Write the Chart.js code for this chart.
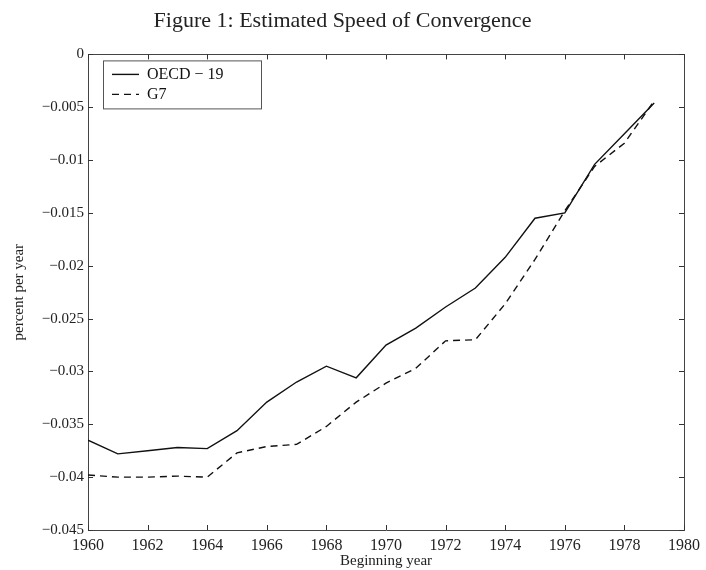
<!DOCTYPE html>
<html lang="en">
<head>
<meta charset="UTF-8">
<title>Estimated Speed of Convergence</title>
<script src="https://cdn.jsdelivr.net/npm/chart.js"></script>
<style>
  html, body { margin: 0; padding: 0; background: #fff; }
  #wrap { width: 706px; height: 570px; }
</style>
</head>
<body>
<div id="wrap"><canvas id="chart" width="706" height="570"></canvas></div>
<script>
// data
const years = [1960, 1961, 1962, 1963, 1964, 1965, 1966, 1967, 1968, 1969,
               1970, 1971, 1972, 1973, 1974, 1975, 1976, 1977, 1978, 1979];
const oecd19 = [-0.0365, -0.0378, -0.0375, -0.0372, -0.0373, -0.0356, -0.0329, -0.0310, -0.0295, -0.0306,
                -0.0275, -0.0259, -0.0239, -0.0221, -0.0192, -0.0155, -0.0150, -0.0104, -0.0075, -0.0046];
const g7 = [-0.0398, -0.0400, -0.0400, -0.0399, -0.0400, -0.0377, -0.0371, -0.0369, -0.0352, -0.0329,
            -0.0311, -0.0297, -0.0271, -0.0270, -0.0236, -0.0194, -0.0148, -0.0106, -0.0084, -0.0044];
const seriesNames = ['OECD \u2212 19', 'G7'];
const xTicks = [1960, 1962, 1964, 1966, 1968, 1970, 1972, 1974, 1976, 1978, 1980];
const yTicks = [0, -0.005, -0.01, -0.015, -0.02, -0.025, -0.03, -0.035, -0.04, -0.045];

const serif = "'Liberation Serif', 'DejaVu Serif', serif";

// inward tick marks on all four sides, plus the legend box in the corner
const frameTicks = {
  id: 'frameTicks',
  afterDatasetsDraw(chart) {
    const { ctx, chartArea: a, scales } = chart;
    ctx.save();
    ctx.strokeStyle = '#333';
    ctx.lineWidth = 1;
    ctx.beginPath();
    xTicks.forEach(v => {
      const px = Math.round(scales.x.getPixelForValue(v)) + 0.5;
      ctx.moveTo(px, a.bottom); ctx.lineTo(px, a.bottom - 5);
      ctx.moveTo(px, a.top); ctx.lineTo(px, a.top + 5);
    });
    yTicks.forEach(v => {
      const py = Math.round(scales.y.getPixelForValue(v)) + 0.5;
      ctx.moveTo(a.left, py); ctx.lineTo(a.left + 5, py);
      ctx.moveTo(a.right, py); ctx.lineTo(a.right - 5, py);
    });
    ctx.stroke();

    // legend
    const bx = a.left + 15, by = a.top + 6, bw = 158, bh = 48;
    ctx.fillStyle = '#fff';
    ctx.fillRect(bx, by, bw, bh);
    ctx.strokeStyle = '#555';
    ctx.strokeRect(bx + 0.5, by + 0.5, bw, bh);
    ctx.font = '16px ' + serif;
    ctx.textBaseline = 'middle';
    chart.data.datasets.forEach((ds, i) => {
      const ly = by + 14 + i * 20;
      ctx.strokeStyle = ds.borderColor;
      ctx.lineWidth = ds.borderWidth;
      ctx.setLineDash(ds.borderDash || []);
      ctx.beginPath();
      ctx.moveTo(bx + 9, ly); ctx.lineTo(bx + 36, ly);
      ctx.stroke();
      ctx.setLineDash([]);
      ctx.fillStyle = '#111';
      ctx.fillText(ds.label, bx + 44, ly);
    });
    ctx.restore();
  }
};

const ctx = document.getElementById('chart').getContext('2d');
new Chart(ctx, {
  type: 'line',
  data: {
    datasets: [
      {
        label: seriesNames[0],
        data: years.map((y, i) => ({ x: y, y: oecd19[i] })),
        borderColor: '#111',
        borderWidth: 1.4,
        pointRadius: 0,
        tension: 0
      },
      {
        label: seriesNames[1],
        data: years.map((y, i) => ({ x: y, y: g7[i] })),
        borderColor: '#111',
        borderWidth: 1.4,
        borderDash: [7, 5],
        pointRadius: 0,
        tension: 0
      }
    ]
  },
  options: {
    responsive: false,
    animation: false,
    layout: { padding: { left: 0, right: 21, top: 0, bottom: 0 } },
    plugins: {
      legend: { display: false },
      tooltip: { enabled: false },
      title: {
        display: true,
        text: 'Figure 1: Estimated Speed of Convergence',
        color: '#222',
        font: { family: serif, size: 22, weight: 'normal' },
        padding: { top: 8, bottom: 20 }
      }
    },
    scales: {
      x: {
        type: 'linear',
        min: 1960,
        max: 1980,
        afterBuildTicks: s => { s.ticks = xTicks.map(v => ({ value: v })); },
        afterFit: s => { s.height = 40; },
        grid: { drawOnChartArea: false, drawTicks: false },
        border: { display: true, color: '#444', width: 1 },
        ticks: {
          color: '#222',
          padding: 6,
          maxRotation: 0,
          autoSkip: false,
          font: { family: serif, size: 16 },
          callback: v => String(v)
        },
        title: {
          display: true,
          text: 'Beginning year',
          color: '#222',
          padding: { top: 0, bottom: 0 },
          font: { family: serif, size: 15 }
        }
      },
      y: {
        min: -0.045,
        max: 0,
        afterBuildTicks: s => { s.ticks = yTicks.map(v => ({ value: v })); },
        afterFit: s => { s.width = 88; },
        grid: { drawOnChartArea: false, drawTicks: false },
        border: { display: true, color: '#444', width: 1 },
        ticks: {
          color: '#222',
          padding: 4,
          autoSkip: false,
          font: { family: serif, size: 15 },
          callback: v => String(Number(v.toFixed(3))).replace('-', '\u2212')
        },
        title: {
          display: true,
          text: 'percent per year',
          color: '#222',
          padding: { top: 10, bottom: 2 },
          font: { family: serif, size: 15 }
        }
      },
      x2: {
        type: 'linear',
        position: 'top',
        min: 1960,
        max: 1980,
        grid: { drawOnChartArea: false, drawTicks: false },
        border: { display: true, color: '#444', width: 1 },
        ticks: { display: false },
        afterFit: s => { s.height = 0; }
      },
      y2: {
        position: 'right',
        min: -0.045,
        max: 0,
        grid: { drawOnChartArea: false, drawTicks: false },
        border: { display: true, color: '#444', width: 1 },
        ticks: { display: false },
        afterFit: s => { s.width = 0; }
      }
    }
  },
  plugins: [frameTicks]
});
</script>
</body>
</html>
